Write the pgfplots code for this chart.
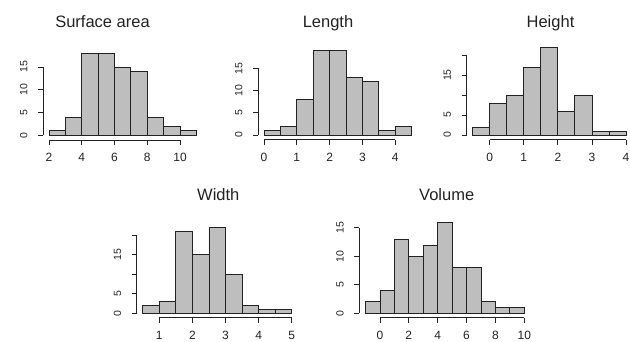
\documentclass[border=0pt]{standalone}
\usepackage{fontspec}
\setmainfont{Liberation Sans}
\usepackage{pgfplots}
\pgfplotsset{compat=1.18}
\definecolor{histfill}{HTML}{BEBEBE}
\definecolor{ink}{HTML}{222222}
\pgfplotsset{
  rhist/.style={
    scale only axis, anchor=south west, clip=false,
    axis line style={draw=none},
    xtick pos=lower, ytick pos=left,
    tick align=outside, major tick length=5pt,
    every tick/.style={ink, line width=0.9pt},
    /pgf/number format/assume math mode=true,
    scaled ticks=false,
    xticklabel shift=5pt, yticklabel shift=7pt,
    x tick label style={font=\fontsize{12}{12}\selectfont, text=ink},
    y tick label style={font=\fontsize{10.5}{10.5}\selectfont, text=ink, rotate=90, anchor=south},
  },
  hbar/.style={ybar interval, fill=histfill, draw=ink, line width=0.9pt},
}
\begin{document}
\begin{tikzpicture}
\path[use as bounding box] (0pt,0pt) rectangle (630pt,341pt);

% Surface area
\begin{axis}[rhist, at={(43.1pt,201pt)}, width=159.2pt, height=90.05pt,
  xmin=1.64, xmax=11.36, ymin=-0.985, ymax=18.72,
  xtick={2,4,6,8,10}, ytick={0,5,10,15}]
\addplot[hbar] coordinates {(2,1)(3,4)(4,18)(5,18)(6,15)(7,14)(8,4)(9,2)(10,1)(11,1)};
\draw[ink, line width=0.9pt] (axis cs:2,-0.985) -- (axis cs:10,-0.985);
\draw[ink, line width=0.9pt] (axis cs:1.64,0) -- (axis cs:1.64,15);
\end{axis}

% Length
\begin{axis}[rhist, at={(258.1pt,201.5pt)}, width=159.5pt, height=92.2pt,
  xmin=-0.18, xmax=4.68, ymin=-1.0135, ymax=19.76,
  xtick={0,1,2,3,4}, ytick={0,5,10,15}]
\addplot[hbar] coordinates {(0,1)(0.5,2)(1,8)(1.5,19)(2,19)(2.5,13)(3,12)(3.5,1)(4,2)(4.5,2)};
\draw[ink, line width=0.9pt] (axis cs:0,-1.0135) -- (axis cs:4,-1.0135);
\draw[ink, line width=0.9pt] (axis cs:-0.18,0) -- (axis cs:-0.18,15);
\end{axis}

% Height
\begin{axis}[rhist, at={(466.5pt,201.5pt)}, width=165.7pt, height=95.8pt,
  xmin=-0.68, xmax=4.18, ymin=-1.128, ymax=22.88,
  xtick={0,1,2,3,4}, ytick={0,5,10,15,20}, yticklabels={0,5,,15,}]
\addplot[hbar] coordinates {(-0.5,2)(0,8)(0.5,10)(1,17)(1.5,22)(2,6)(2.5,10)(3,1)(3.5,1)(4,1)};
\draw[ink, line width=0.9pt] (axis cs:0,-1.128) -- (axis cs:4,-1.128);
\draw[ink, line width=0.9pt] (axis cs:-0.68,0) -- (axis cs:-0.68,20);
\end{axis}

% Width
\begin{axis}[rhist, at={(136.8pt,23.2pt)}, width=160.9pt, height=94pt,
  xmin=0.32, xmax=5.18, ymin=-1.151, ymax=22.88,
  xtick={1,2,3,4,5}, ytick={0,5,10,15,20}, yticklabels={0,5,,15,}]
\addplot[hbar] coordinates {(0.5,2)(1,3)(1.5,21)(2,15)(2.5,22)(3,10)(3.5,2)(4,1)(4.5,1)(5,1)};
\draw[ink, line width=0.9pt] (axis cs:1,-1.151) -- (axis cs:5,-1.151);
\draw[ink, line width=0.9pt] (axis cs:0.32,0) -- (axis cs:0.32,20);
\end{axis}

% Volume
\begin{axis}[rhist, at={(359.2pt,23.2pt)}, width=171.4pt, height=99.2pt,
  xmin=-1.44, xmax=10.44, ymin=-0.791, ymax=16.64,
  xtick={0,2,4,6,8,10}, ytick={0,5,10,15}]
\addplot[hbar] coordinates {(-1,2)(0,4)(1,13)(2,10)(3,12)(4,16)(5,8)(6,8)(7,2)(8,1)(9,1)(10,1)};
\draw[ink, line width=0.9pt] (axis cs:0,-0.791) -- (axis cs:10,-0.791);
\draw[ink, line width=0.9pt] (axis cs:-1.44,0) -- (axis cs:-1.44,15);
\end{axis}

\begin{scope}[every node/.style={font=\fontsize{16.5}{16.5}\selectfont, text=ink, anchor=base, inner sep=0pt}]
\node at (102.5pt,313.7pt) {Surface area};
\node at (328pt,313.7pt) {Length};
\node at (550.5pt,313.7pt) {Height};
\node at (218.3pt,140.3pt) {Width};
\node at (446.7pt,140.3pt) {Volume};
\end{scope}
\end{tikzpicture}
\end{document}
